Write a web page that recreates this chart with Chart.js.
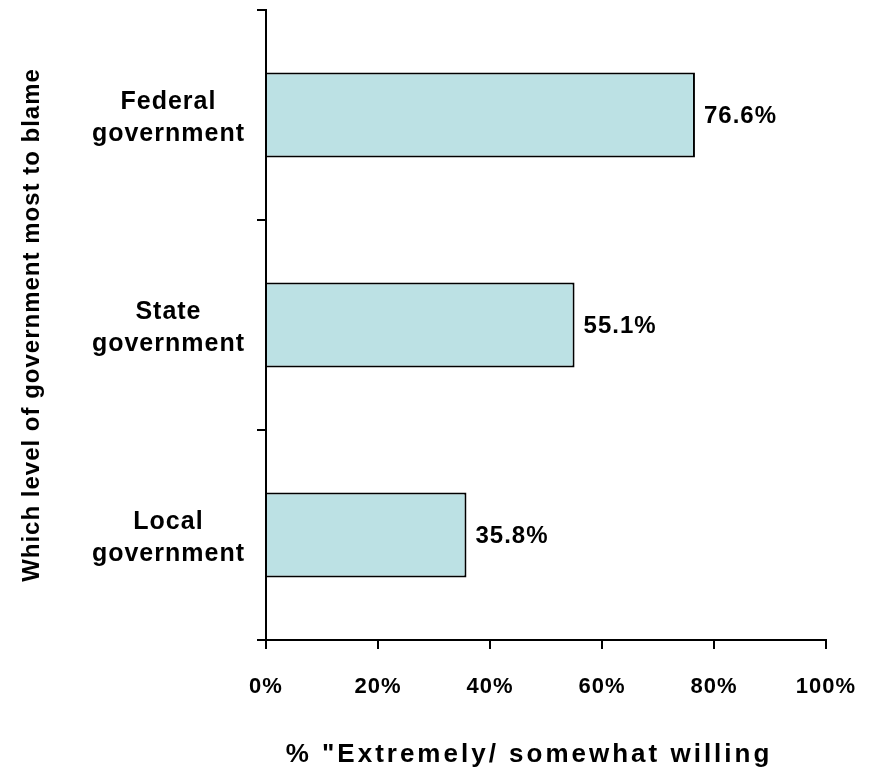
<!DOCTYPE html>
<html>
<head>
<meta charset="utf-8">
<script src="https://cdn.jsdelivr.net/npm/chart.js@4/dist/chart.umd.min.js"></script>
<style>
    html, body { margin: 0; padding: 0; background: #fff; }
    #wrap { width: 879px; height: 770px; }
</style>
</head>
<body>
<div id="wrap"><canvas id="blameChart"></canvas></div>
<script>
// Chart data
const categories = [['Federal', 'government'], ['State', 'government'], ['Local', 'government']];
const willingValues = [76.6, 55.1, 35.8];
const xTicks = [0, 20, 40, 60, 80, 100];
const xTitle = '% "Extremely/ somewhat willing';

const FONT = 'Arial, "Liberation Sans", sans-serif';

// The original text is slightly letter-spaced
const spacing = {
    id: 'spacing',
    beforeLayout(chart) { chart.ctx.letterSpacing = '1px'; },
    beforeDraw(chart) { chart.ctx.letterSpacing = '1px'; }
};

// Value next to each bar + the widely spaced x axis title
const valueLabels = {
    id: 'valueLabels',
    afterDatasetsDraw(chart) {
        const ctx = chart.ctx;
        const meta = chart.getDatasetMeta(0);
        ctx.save();
        ctx.font = 'bold 24px ' + FONT;
        ctx.fillStyle = '#000';
        ctx.textAlign = 'left';
        ctx.textBaseline = 'middle';
        meta.data.forEach((bar, i) => {
            ctx.fillText(willingValues[i].toFixed(1) + '%', bar.x + 9, bar.y + 1);
        });
        ctx.restore();
    },
    afterDraw(chart) {
        const ctx = chart.ctx;
        const area = chart.chartArea;
        ctx.save();
        ctx.letterSpacing = '3px';
        ctx.font = 'bold 26px ' + FONT;
        ctx.fillStyle = '#000';
        ctx.textAlign = 'center';
        ctx.textBaseline = 'middle';
        ctx.fillText(xTitle, (area.left + area.right) / 2 - 17, chart.height - 15);
        ctx.restore();
    }
};

const ctx = document.getElementById('blameChart').getContext('2d');
new Chart(ctx, {
    type: 'bar',
    data: {
        labels: categories,
        datasets: [{
            data: willingValues,
            backgroundColor: '#BCE1E4',
            borderColor: '#000',
            borderWidth: 2,
            barPercentage: 0.405,
            categoryPercentage: 1
        }]
    },
    options: {
        indexAxis: 'y',
        responsive: true,
        maintainAspectRatio: false,
        animation: false,
        layout: { padding: { top: 10, right: 53, left: 0, bottom: 0 } },
        plugins: {
            legend: { display: false },
            tooltip: { enabled: false }
        },
        scales: {
            x: {
                min: 0,
                max: 100,
                afterBuildTicks: (scale) => { scale.ticks = xTicks.map(v => ({ value: v })); },
                afterFit: (scale) => {
                    scale.height = 130;
                    scale.paddingLeft = 0;
                    scale.paddingRight = 0;
                },
                border: { color: '#000', width: 2 },
                grid: { drawOnChartArea: false, color: '#000', lineWidth: 2, tickLength: 9 },
                ticks: {
                    color: '#000',
                    padding: 25,
                    maxRotation: 0,
                    font: { family: FONT, size: 22, weight: 'bold' },
                    callback: (v) => v + '%'
                }
            },
            y: {
                afterFit: (scale) => {
                    scale.width = 266;
                    scale.paddingTop = 0;
                    scale.paddingBottom = 0;
                },
                border: { color: '#000', width: 2 },
                grid: { drawOnChartArea: false, color: '#000', lineWidth: 2, tickLength: 9, offset: true },
                ticks: {
                    color: '#000',
                    padding: 12,
                    labelOffset: 3,
                    crossAlign: 'center',
                    font: { family: FONT, size: 25, weight: 'bold', lineHeight: 1.3 }
                },
                title: {
                    display: true,
                    text: 'Which level of government most to blame',
                    color: '#000',
                    font: { family: FONT, size: 24, weight: 'bold' },
                    padding: { top: 18, bottom: 0 }
                }
            }
        }
    },
    plugins: [spacing, valueLabels]
});
</script>
</body>
</html>
